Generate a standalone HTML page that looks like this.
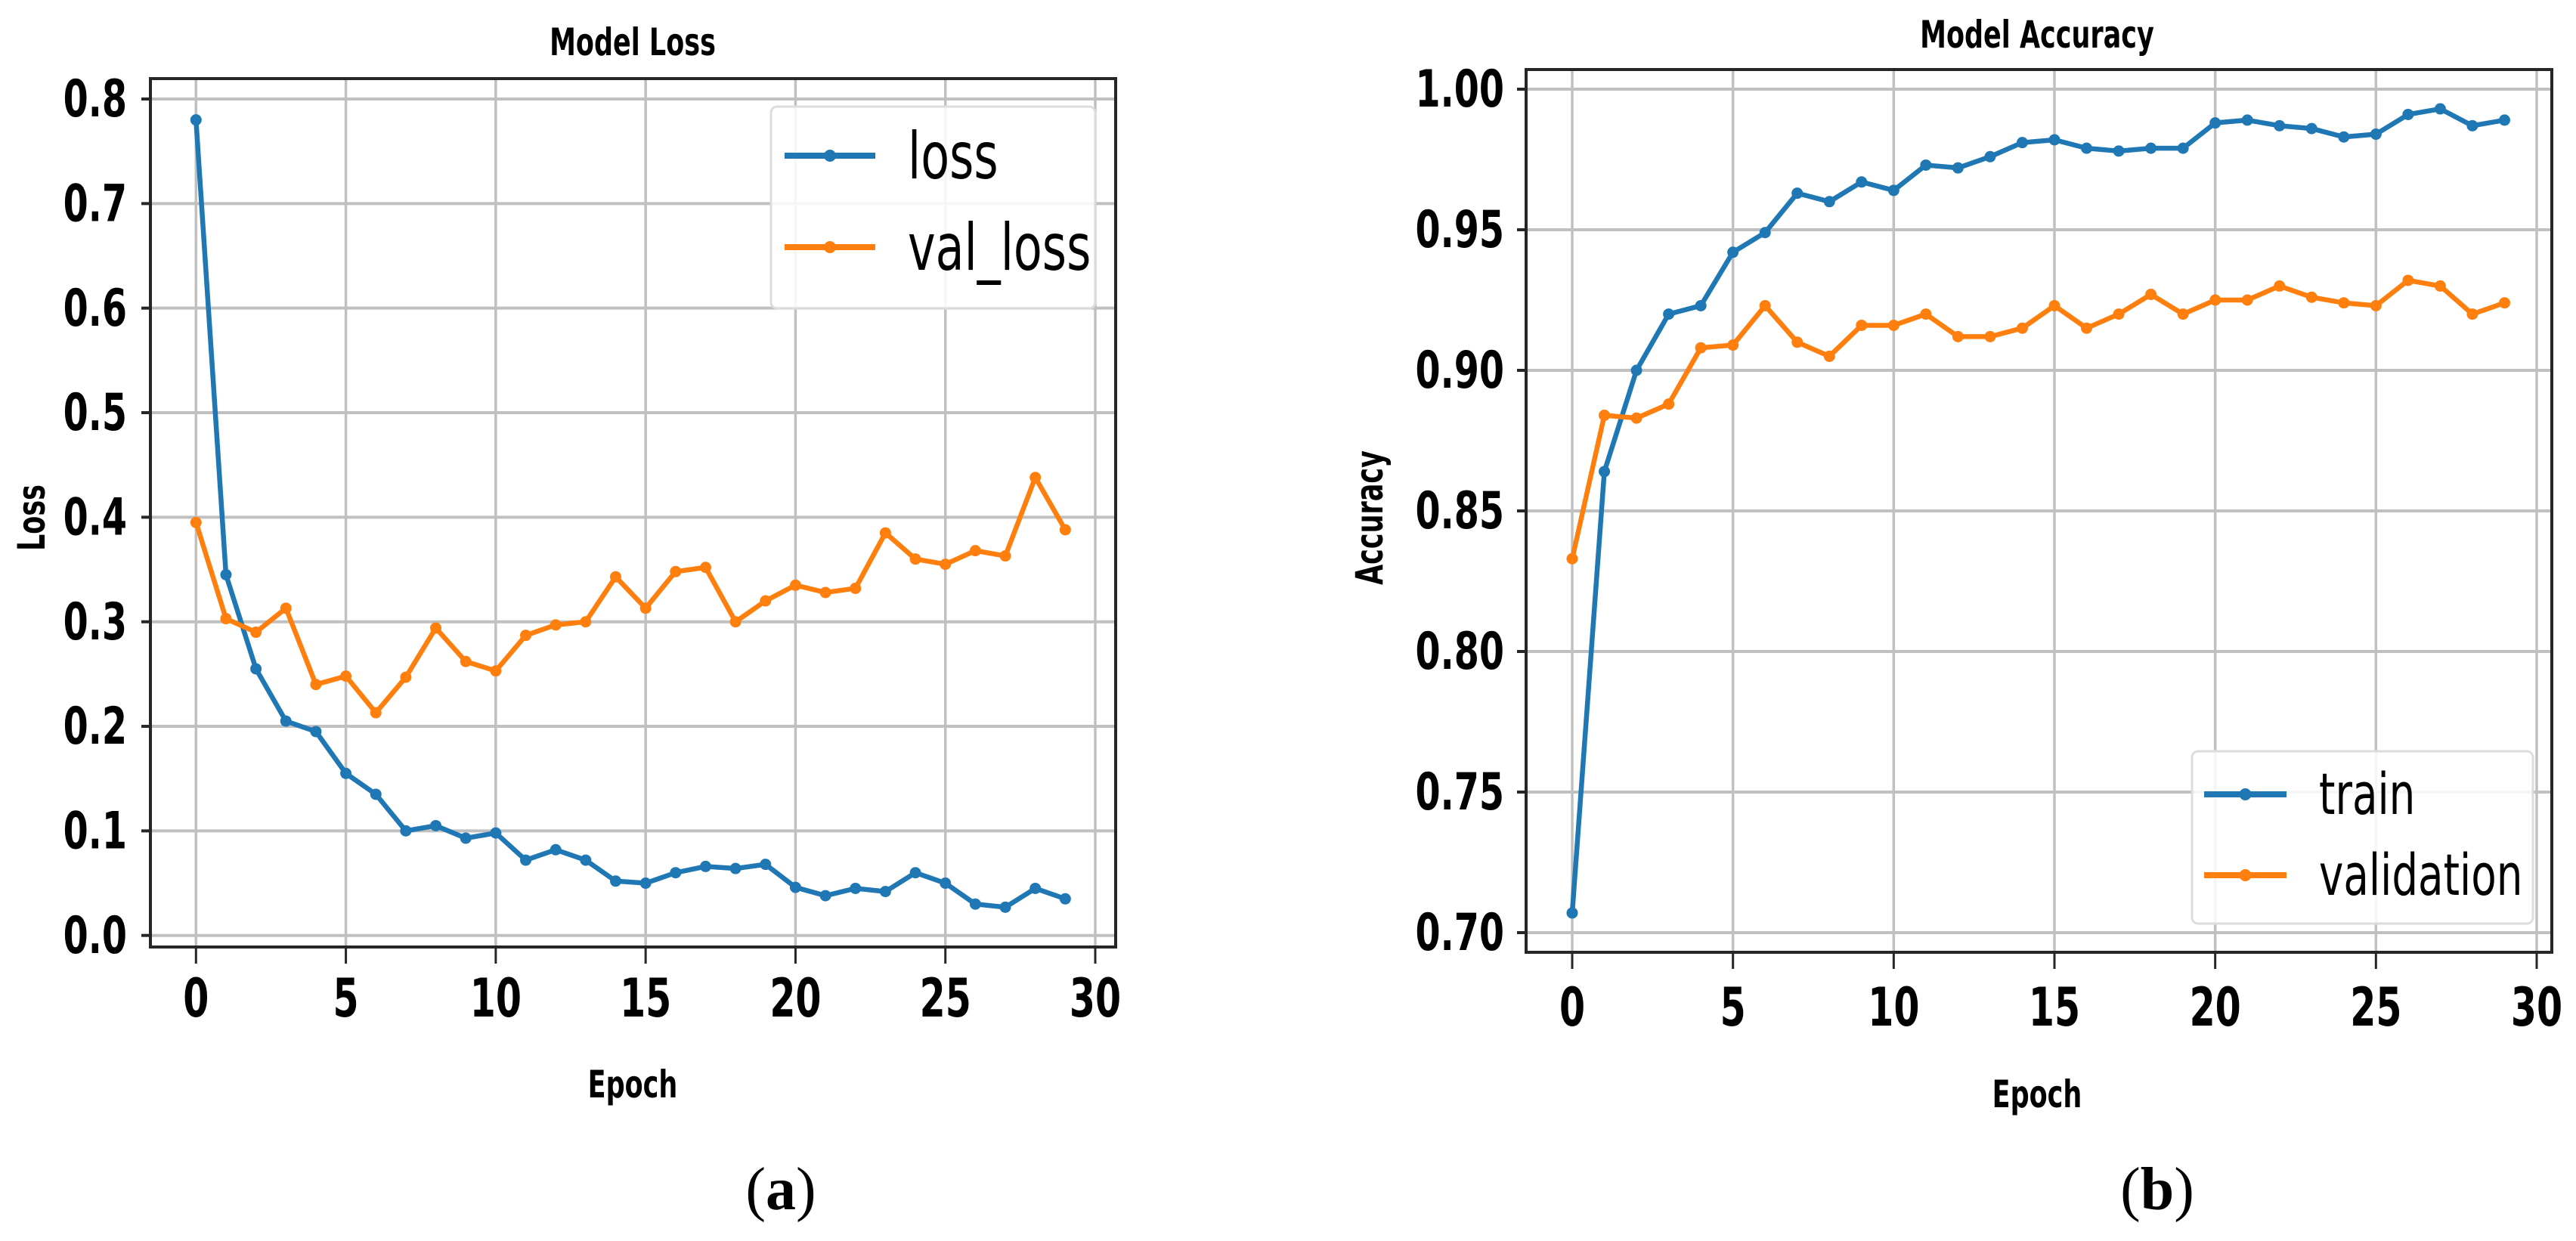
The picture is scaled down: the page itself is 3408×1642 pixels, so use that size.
<!DOCTYPE html>
<html><head><meta charset="utf-8"><style>
html,body{margin:0;padding:0;background:#fff;}
svg{display:block;}
</style></head><body>
<svg id="fig" xmlns="http://www.w3.org/2000/svg" width="3408" height="1642"></svg>
<script>
const epochs = [0,1,2,3,4,5,6,7,8,9,10,11,12,13,14,15,16,17,18,19,20,21,22,23,24,25,26,27,28,29];
const lossValues = [0.78,0.345,0.255,0.205,0.195,0.155,0.135,0.10,0.105,0.093,0.098,0.072,0.082,0.072,0.052,0.05,0.06,0.066,0.064,0.068,0.046,0.038,0.045,0.042,0.06,0.05,0.03,0.027,0.045,0.035];
const valLossValues = [0.395,0.303,0.29,0.313,0.24,0.248,0.213,0.247,0.294,0.262,0.253,0.287,0.297,0.3,0.343,0.313,0.348,0.352,0.3,0.32,0.335,0.328,0.332,0.385,0.36,0.355,0.368,0.363,0.438,0.388];
const trainAccValues = [0.707,0.864,0.900,0.920,0.923,0.942,0.949,0.963,0.960,0.967,0.964,0.973,0.972,0.976,0.981,0.982,0.979,0.978,0.979,0.979,0.988,0.989,0.987,0.986,0.983,0.984,0.991,0.993,0.987,0.989];
const valAccValues = [0.833,0.884,0.883,0.888,0.908,0.909,0.923,0.910,0.905,0.916,0.916,0.920,0.912,0.912,0.915,0.923,0.915,0.920,0.927,0.920,0.925,0.925,0.930,0.926,0.924,0.923,0.932,0.930,0.920,0.924];
const xTicks = [0,5,10,15,20,25,30];
const lossTicks = [0,0.1,0.2,0.3,0.4,0.5,0.6,0.7,0.8];
const lossTickLabels = ["0.0","0.1","0.2","0.3","0.4","0.5","0.6","0.7","0.8"];
const accTicks = [0.70,0.75,0.80,0.85,0.90,0.95,1.00];
const accTickLabels = ["0.70","0.75","0.80","0.85","0.90","0.95","1.00"];

const NS = "http://www.w3.org/2000/svg";
const svg = document.getElementById('fig');
function mk(tag, attrs, parent){
  const e = document.createElementNS(NS, tag);
  for (const k in attrs) e.setAttribute(k, attrs[k]);
  (parent||svg).appendChild(e);
  return e;
}
function txt(str, x, y, size, opts, parent){
  opts = opts || {};
  const sx = opts.sx || 0.7;
  const g = mk('g', {transform:`translate(${x},${y}) ${opts.rot?('rotate('+opts.rot+')'):''} scale(${sx},1)`}, parent);
  const t = mk('text', {x:0, y:0, 'font-family': opts.family || '"DejaVu Sans", "Liberation Sans", sans-serif',
    'font-size': size, 'font-weight': opts.weight || 'bold', 'text-anchor': opts.anchor || 'middle',
    'dominant-baseline':'central', fill:'#000'}, g);
  t.textContent = str;
  return t;
}

function drawPanel(cfg){
  const P = mk('g', {});
  
  
  const xs = v => cfg.x0px + (v - 0) * (cfg.x30px - cfg.x0px) / 30;
  const ys = v => cfg.yBotPx + (v - cfg.yBotVal) * (cfg.yTopPx - cfg.yBotPx) / (cfg.yTopVal - cfg.yBotVal);
  xTicks.forEach(t => {
    const l = mk('line', {x1:xs(t), x2:xs(t), y1:cfg.top, y2:cfg.bottom, stroke:'#c0c0c0', 'stroke-width':3.5}, P);
    
    
  });
  cfg.yTicks.forEach(t => {
    const l = mk('line', {x1:cfg.left, x2:cfg.right, y1:ys(t), y2:ys(t), stroke:'#c0c0c0', 'stroke-width':4}, P);
    
    
  });
  cfg.series.forEach(s => {
    const pts = epochs.map((e,i) => xs(e)+','+ys(s.values[i])).join(' ');
    const pl = mk('polyline', {points:pts, fill:'none', stroke:s.color, 'stroke-width':6.5, 'stroke-linejoin':'round'}, P);
    
    
    epochs.forEach((e,i) => {
      const c = mk('circle', {cx:xs(e), cy:ys(s.values[i]), r:7.5, fill:s.color}, P);
      
      
    });
  });
  const box = mk('rect', {x:cfg.left, y:cfg.top, width:cfg.right-cfg.left, height:cfg.bottom-cfg.top, fill:'none', stroke:'#262626', 'stroke-width':4}, P);
  
  
  xTicks.forEach(t => {
    mk('line', {x1:xs(t), x2:xs(t), y1:cfg.bottom, y2:cfg.bottom+22, stroke:'#262626', 'stroke-width':3}, P);
    const lb = txt(String(t), xs(t), cfg.xLabelY, 70, {}, P);
    
    
  });
  cfg.yTicks.forEach((t,i) => {
    mk('line', {x1:cfg.left-12, x2:cfg.left, y1:ys(t), y2:ys(t), stroke:'#262626', 'stroke-width':4}, P);
    const lb = txt(cfg.yTickLabels[i], cfg.yLabelRight, ys(t), 68, {anchor:'end'}, P);
    
    
  });
  const ti = txt(cfg.title, cfg.titleX, cfg.titleY, 50, {}, P);
  
  
  const xl = txt('Epoch', cfg.titleX, cfg.epochY, 50, {}, P);
  
  
  const yl = txt(cfg.yTitle, cfg.yTitleX, 685, 50, {rot:-90}, P);
  
  
  const L = cfg.legend;
  const lg = mk('g', {}, P);
  
  
  mk('rect', {x:L.x, y:L.y, width:L.w, height:L.h, rx:8, fill:'#fff', 'fill-opacity':0.85, stroke:'#dcdcdc', 'stroke-width':3}, lg);
  cfg.series.forEach((s,i) => {
    const yy = L.rows[i];
    const e = mk('g', {}, lg);
    
    
    mk('line', {x1:L.lx1, x2:L.lx2, y1:yy, y2:yy, stroke:s.color, 'stroke-width':8}, e);
    mk('circle', {cx:(L.lx1+L.lx2)/2, cy:yy, r:8, fill:s.color}, e);
    txt(s.label, L.tx, yy, L.fs, {anchor:'start', weight:'normal', sx:0.72}, e);
  });
  const cap = txt(cfg.caption[0], cfg.capX, 1574, 80, {family:'"Liberation Serif", serif', weight:'normal', sx:1}, P);
  cap.innerHTML = '(<tspan font-weight="bold">' + cfg.caption[1] + '</tspan>)';
  
  
}

drawPanel({
  name:'loss-chart', left:199, right:1476, top:104, bottom:1253,
  x0px:259.3, x30px:1449, yBotVal:0, yBotPx:1237.7, yTopVal:0.8, yTopPx:131,
  yTicks:lossTicks, yTickLabels:lossTickLabels, yLabelRight:168, xLabelY:1322,
  title:'Model Loss', titleX:837, titleY:57, epochY:1436, yTitle:'Loss', yTitleX:43,
  series:[{name:'loss', label:'loss', color:'#1f77b4', values:lossValues},
          {name:'val-loss', label:'val_loss', color:'#ff7f0e', values:valLossValues}],
  legend:{x:1020, y:141, w:429, h:267, rows:[206,327], lx1:1038, lx2:1158, tx:1201, fs:86},
  caption:['(a)','a'], capX:1033
});
drawPanel({
  name:'accuracy-chart', left:2019, right:3376, top:92, bottom:1260,
  x0px:2080, x30px:3356, yBotVal:0.70, yBotPx:1234, yTopVal:1.00, yTopPx:118,
  yTicks:accTicks, yTickLabels:accTickLabels, yLabelRight:1990, xLabelY:1334,
  title:'Model Accuracy', titleX:2695, titleY:47, epochY:1449, yTitle:'Accuracy', yTitleX:1813,
  series:[{name:'train', label:'train', color:'#1f77b4', values:trainAccValues},
          {name:'validation', label:'validation', color:'#ff7f0e', values:valAccValues}],
  legend:{x:2900, y:994, w:451, h:228, rows:[1051,1158], lx1:2916, lx2:3025, tx:3068, fs:76},
  caption:['(b)','b'], capX:2854
});
</script>
</body></html>
